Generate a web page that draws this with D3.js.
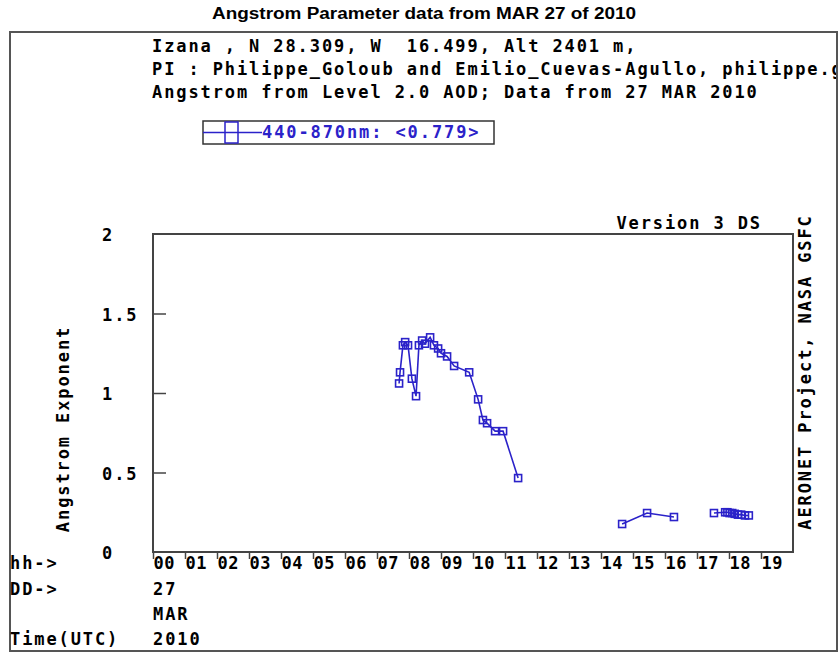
<!DOCTYPE html>
<html>
<head>
<meta charset="utf-8">
<script src="https://cdn.jsdelivr.net/npm/d3@7"></script>
<style>
  body { margin: 0; background: #fff; }
  svg text { font-family: "DejaVu Sans Mono", "Liberation Mono", monospace; font-weight: bold; white-space: pre; }
</style>
</head>
<body>
<div id="chart"></div>
<script>
// chart values
let hours = [7.69, 7.72, 7.81, 7.88, 7.97, 8.09, 8.22, 8.31, 8.41, 8.50, 8.66, 8.78, 8.91, 9.00,
    9.19, 9.41, 9.88, 10.16, 10.31, 10.44, 10.69, 10.94, 11.41,
    14.66, 15.44, 16.28,
    17.53, 17.88, 17.95, 18.02, 18.10, 18.18, 18.28, 18.38, 18.50, 18.62];
let angstrom = [1.06, 1.13, 1.30, 1.32, 1.30, 1.09, 0.98, 1.30, 1.33, 1.31, 1.35, 1.30, 1.28, 1.25,
    1.23, 1.17, 1.13, 0.96, 0.83, 0.81, 0.76, 0.76, 0.465,
    0.176, 0.245, 0.22,
    0.245, 0.25, 0.25, 0.245, 0.245, 0.24, 0.235, 0.235, 0.23, 0.23];

let hourTicks = d3.range(0, 20);
let yTickValues = [0, 0.5, 1, 1.5, 2];
let yTickLabels = ['0', '0.5', '1', '1.5', '2'];

let titleText = 'Angstrom Parameter data from MAR 27 of 2010';
let headerLines = [
    'Izana , N 28.309, W  16.499, Alt 2401 m,',
    'PI : Philippe_Goloub and Emilio_Cuevas-Agullo, philippe.g',
    'Angstrom from Level 2.0 AOD; Data from 27 MAR 2010'
];
let legendLabel = '440-870nm: <0.779>';
let dateLines = [{left: 'DD->', right: '27'}, {left: '', right: 'MAR'}, {left: 'Time(UTC)', right: '2010'}];

let BLUE = '#2b22c9';
let width = 840, height = 653;
let maxGap = 1; // hours, lines are broken above this gap

let svg = d3.select('#chart').append('svg')
    .attr('width', width)
    .attr('height', height);

let xScale = d3.scaleLinear().domain([0, 20]).range([153, 793]);
let yScale = d3.scaleLinear().domain([0, 2]).range([552, 234]);

// outer frame
svg.append('rect')
    .attr('x', 10).attr('y', 32)
    .attr('width', 827).attr('height', 619)
    .attr('fill', 'none').attr('stroke', '#555').attr('stroke-width', 2);

svg.append('text')
    .attr('x', 424).attr('y', 19)
    .attr('text-anchor', 'middle')
    .style('font-family', '"Liberation Sans", Arial, sans-serif')
    .style('font-size', '16px')
    .attr('textLength', 424)
    .attr('lengthAdjust', 'spacingAndGlyphs')
    .text(titleText);

function monoText(g, x, y, txt, size) {
    return g.append('text')
        .attr('x', x).attr('y', y)
        .style('font-size', (size || 17) + 'px')
        .style('letter-spacing', '1.9px')
        .text(txt);
}

svg.append('clipPath').attr('id', 'frameclip')
    .append('rect').attr('x', 10).attr('y', 32).attr('width', 826).attr('height', 619);

let header = svg.append('g').attr('clip-path', 'url(#frameclip)');
headerLines.forEach((line, i) => monoText(header, 152, 52 + i * 23, line));

// legend
let legend = svg.append('g');
legend.append('rect')
    .attr('x', 203).attr('y', 121).attr('width', 291).attr('height', 23)
    .attr('fill', 'none').attr('stroke', '#333').attr('stroke-width', 1.5);
legend.append('line')
    .attr('x1', 203).attr('x2', 262).attr('y1', 132.5).attr('y2', 132.5)
    .attr('stroke', BLUE).attr('stroke-width', 1.5);
legend.append('rect')
    .attr('x', 225).attr('y', 122).attr('width', 13).attr('height', 21)
    .attr('fill', 'none').attr('stroke', BLUE).attr('stroke-width', 1.5);
monoText(legend, 262, 138, legendLabel).attr('fill', BLUE);

// plot box
svg.append('rect')
    .attr('x', xScale(0)).attr('y', yScale(2))
    .attr('width', xScale(20) - xScale(0)).attr('height', yScale(0) - yScale(2))
    .attr('fill', 'none').attr('stroke', '#444').attr('stroke-width', 2);

// y ticks pointing inward
let yAxis = svg.append('g')
    .attr('transform', 'translate(' + xScale(0) + ',0)')
    .call(d3.axisLeft(yScale).tickValues([0.5, 1, 1.5]).tickSize(-13).tickFormat(''));
yAxis.select('.domain').remove();
yAxis.selectAll('.tick line').attr('stroke', '#444').attr('stroke-width', 1.5);

yTickValues.forEach((v, i) => {
    monoText(svg, 102, yScale(v) + 7, yTickLabels[i]);
});

// x axis, hours
let xAxis = svg.append('g')
    .attr('transform', 'translate(0,' + yScale(0) + ')')
    .call(d3.axisBottom(xScale).tickValues(hourTicks).tickSize(7).tickFormat(''));
xAxis.select('.domain').remove();
xAxis.selectAll('.tick line').attr('stroke', '#444').attr('stroke-width', 1.5);

hourTicks.forEach((h) => {
    monoText(svg, xScale(h) + 0.5, 569, d3.format('02d')(h)).style('letter-spacing', '0.4px');
});

monoText(svg, 10, 569, 'hh->');
dateLines.forEach((d, i) => {
    if (d.left) monoText(svg, 10, 595 + i * 25, d.left);
    monoText(svg, 153, 595 + i * 25, d.right);
});

monoText(svg, 762, 229, 'Version 3 DS').attr('text-anchor', 'end');

monoText(svg, 0, 0, 'Angstrom Exponent')
    .attr('text-anchor', 'middle')
    .attr('transform', 'translate(69,429) rotate(-90)');

monoText(svg, 0, 0, 'AERONET Project, NASA GSFC')
    .attr('text-anchor', 'middle')
    .attr('transform', 'translate(811,372) rotate(-90)');

// data lines, broken at large time gaps
let points = hours.map((h, i) => ({h: h, v: angstrom[i]}));
let segments = [];
points.forEach((p, i) => {
    if (i === 0 || p.h - points[i - 1].h > maxGap) segments.push([]);
    segments[segments.length - 1].push(p);
});

let line = d3.line().x((d) => xScale(d.h)).y((d) => yScale(d.v));

svg.append('g').selectAll('path')
    .data(segments)
    .enter()
    .append('path')
    .attr('d', line)
    .attr('fill', 'none')
    .attr('stroke', BLUE)
    .attr('stroke-width', 1.6);

let markerSize = 7;
svg.append('g').selectAll('rect')
    .data(points)
    .enter()
    .append('rect')
    .attr('x', (d) => xScale(d.h) - markerSize / 2)
    .attr('y', (d) => yScale(d.v) - markerSize / 2)
    .attr('width', markerSize)
    .attr('height', markerSize)
    .attr('fill', 'none')
    .attr('stroke', BLUE)
    .attr('stroke-width', 1.6);
</script>
</body>
</html>
